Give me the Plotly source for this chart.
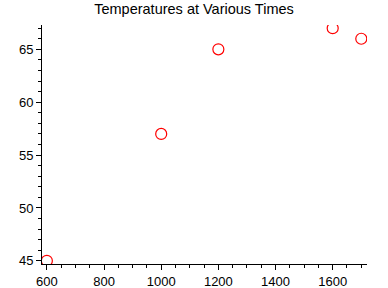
import plotly.graph_objects as go

times = [600, 1000, 1200, 1600, 1700]
temps = [45, 57, 65, 67, 66]
x_ticks = [600, 800, 1000, 1200, 1400, 1600]
y_ticks = [45, 50, 55, 60, 65]

fig = go.Figure(go.Scatter(
    x=times, y=temps, mode="markers",
    marker=dict(symbol="circle-open", size=11, color="#ff0000", line=dict(width=1.2, color="#ff0000")),
))

fig.update_layout(
    width=388, height=288,
    margin=dict(l=42, r=21, t=25, b=24, autoexpand=False),
    paper_bgcolor="white", plot_bgcolor="white",
    font=dict(family="Liberation Sans, Arial, sans-serif", size=13, color="black"),
    title=dict(text="Temperatures at Various Times", x=0.5, xanchor="center", y=0.985, yanchor="top",
               font=dict(size=14.5, color="black")),
    showlegend=False,
    xaxis=dict(range=[583, 1720], tickvals=x_ticks, ticks="outside", ticklen=5, tickcolor="black",
               showline=True, linecolor="black", linewidth=1, showgrid=False, zeroline=False,
               automargin=False,
               minor=dict(dtick=50, tick0=0, ticks="outside", ticklen=3, tickcolor="black"),
               tickfont=dict(size=13)),
    yaxis=dict(range=[44.7, 67.3], tickvals=y_ticks, ticks="outside", ticklen=5, tickcolor="black",
               showline=True, linecolor="black", linewidth=1, showgrid=False, zeroline=False,
               automargin=False,
               minor=dict(dtick=1, tick0=0, ticks="outside", ticklen=3, tickcolor="black"),
               tickfont=dict(size=13)),
)

fig.write_html("out.html")
